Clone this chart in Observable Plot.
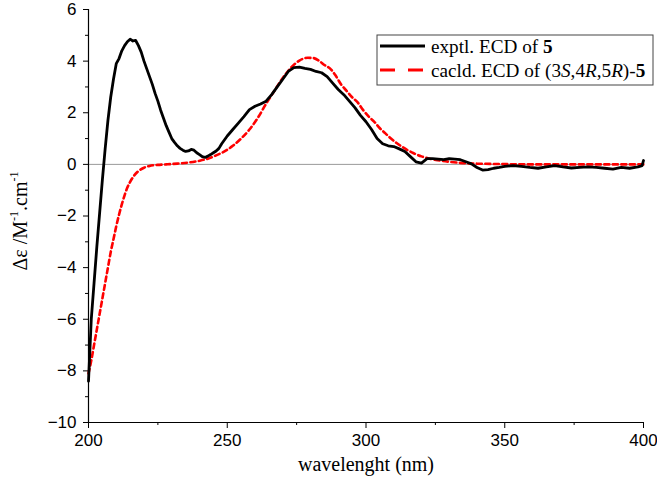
<!DOCTYPE html>
<html><head><meta charset="utf-8">
<script src="https://cdn.jsdelivr.net/npm/d3@7"></script>
<script src="https://cdn.jsdelivr.net/npm/@observablehq/plot@0.6"></script>
<style>body{margin:0;background:#fff}</style>
</head><body><div id="chart"></div>
<script>
// Experimental ECD of 5
const wlExp = [200,200.5,201,202,203,204,205,206,207,208,209,210,211,212,213,214,215,216,217,218,219,220,221,222,223,224,225,226,227,228,229,230,231,232,233,234,235,236,237,238,239,240,241,242,243,244,245,246,247,248,250,252,254,256,258,260,262,264,266,268,270,272,274,276,278,280,282,284,286,288,290,292,294,296,298,300,302,304,306,308,310,312,314,316,318,320,322,324,326,328,330,332,334,336,338,340,342,344,346,348,350,353,356,359,362,365,368,371,374,377,380,383,386,389,392,395,398,399.5,400];
const deExp = [-8.4,-7.2,-6.0,-4.6,-3.2,-1.9,-0.6,0.6,1.7,2.6,3.3,3.9,4.1,4.4,4.6,4.75,4.85,4.78,4.8,4.6,4.35,4.0,3.7,3.4,3.1,2.75,2.45,2.1,1.8,1.5,1.25,1.0,0.85,0.72,0.62,0.55,0.5,0.52,0.58,0.55,0.45,0.38,0.3,0.27,0.32,0.38,0.45,0.52,0.62,0.8,1.1,1.35,1.6,1.85,2.12,2.25,2.34,2.45,2.7,3.0,3.3,3.6,3.75,3.77,3.72,3.68,3.6,3.55,3.4,3.15,2.9,2.7,2.45,2.2,1.9,1.65,1.35,1.0,0.8,0.72,0.69,0.6,0.5,0.3,0.1,0.05,0.22,0.22,0.2,0.18,0.22,0.2,0.18,0.1,0.02,-0.12,-0.22,-0.2,-0.15,-0.12,-0.08,-0.05,-0.08,-0.12,-0.15,-0.1,-0.05,-0.1,-0.14,-0.12,-0.1,-0.12,-0.15,-0.18,-0.12,-0.15,-0.1,-0.05,0.15];
// Calculated ECD of (3S,4R,5R)-5
const wlCalc = [200,201,202,203,204,205,206,207,208,209,210,211,212,213,214,215,216,218,220,222,225,228,232,236,240,243,246,249,252,255,258,261,264,267,270,273,276,279,281,283,285,287,289,291,293,295,297,299,301,303,305,307,309,311,313,315,317,320,323,326,330,335,340,350,360,370,380,390,400];
const deCalc = [-8.1,-7.6,-7.0,-6.4,-5.8,-5.2,-4.6,-4.0,-3.4,-2.9,-2.4,-1.95,-1.55,-1.2,-0.9,-0.68,-0.5,-0.26,-0.13,-0.06,-0.02,0,0.03,0.07,0.14,0.22,0.35,0.5,0.72,1.0,1.35,1.8,2.35,2.85,3.35,3.75,4.02,4.13,4.12,4.02,3.85,3.72,3.45,3.1,2.85,2.6,2.4,2.1,1.85,1.65,1.4,1.2,1.0,0.83,0.68,0.55,0.44,0.31,0.22,0.16,0.1,0.05,0.03,0.01,0,0,0,0,0];

const xTicks = [200,250,300,350,400];
const xMinor = [225,275,325,375];
const yTicks = [-10,-8,-6,-4,-2,0,2,4,6];
const yMinor = [-9,-7,-5,-3,-1,1,3,5];

const expData = wlExp.map((x,i)=>({x, y: deExp[i]}));
const calcData = wlCalc.map((x,i)=>({x, y: deCalc[i]}));

const serif = "'Liberation Serif','Times New Roman',serif";

const plot = Plot.plot({
  width: 657, height: 485,
  marginLeft: 88, marginRight: 14, marginTop: 9, marginBottom: 63,
  x: {domain: [200, 400]},
  y: {domain: [-10, 6]},
  style: {fontFamily: "'Liberation Sans',Arial,sans-serif", fontSize: "17px", color: "#000", background: "#fff"},
  marks: [
    Plot.ruleY([0], {stroke: "#999", strokeWidth: 1}),
    Plot.axisX({ticks: xTicks, tickSize: 6, tickPadding: 5, label: null, fontSize: 17}),
    Plot.axisX({ticks: xMinor, tickSize: 3, tickFormat: () => "", label: null}),
    Plot.axisY({ticks: yTicks, tickSize: 5, tickPadding: 7, label: null, fontSize: 17}),
    Plot.axisY({ticks: yMinor, tickSize: 3, tickFormat: () => "", label: null}),
    Plot.ruleX([200], {stroke: "#000", strokeWidth: 1.2}),
    Plot.ruleY([-10], {stroke: "#000", strokeWidth: 1.2}),
    Plot.line(calcData, {x: "x", y: "y", stroke: "#ff0000", strokeWidth: 2.6, strokeDasharray: "5,3.5", curve: "monotone-x"}),
    Plot.line(expData, {x: "x", y: "y", stroke: "#000", strokeWidth: 2.8, curve: "linear"}),
    Plot.text(["wavelenght (nm)"], {frameAnchor: "bottom", dy: 42, lineAnchor: "middle", fontFamily: serif, fontSize: 20})
  ]
});

const svg = d3.select(plot);

// Y axis label with superscripts
const yl = svg.append("text")
  .attr("transform", "translate(27,221) rotate(-90)")
  .attr("text-anchor", "middle")
  .attr("font-family", serif).attr("font-size", 20).attr("fill", "#000");
yl.append("tspan").text("Δε /M");
yl.append("tspan").attr("font-size", 12).attr("dy", -9).text("-1");
yl.append("tspan").attr("dy", 9).text(".cm");
yl.append("tspan").attr("font-size", 12).attr("dy", -9).text("-1");

// Legend
const g = svg.append("g").attr("font-family", serif).attr("font-size", 19.2).attr("text-anchor", "start");
g.append("rect").attr("x", 377).attr("y", 35).attr("width", 276).attr("height", 50)
  .attr("fill", "#fff").attr("stroke", "#444").attr("stroke-width", 1);
g.append("line").attr("x1", 380).attr("x2", 425).attr("y1", 46).attr("y2", 46)
  .attr("stroke", "#000").attr("stroke-width", 3);
g.append("line").attr("x1", 380).attr("x2", 425).attr("y1", 70).attr("y2", 70)
  .attr("stroke", "#ff0000").attr("stroke-width", 3).attr("stroke-dasharray", "15,13");
const t1 = g.append("text").attr("x", 431).attr("y", 46).attr("dy", "0.35em").attr("text-anchor", "start");
t1.append("tspan").text("exptl. ECD of ");
t1.append("tspan").attr("font-weight", "bold").text("5");
const t2 = g.append("text").attr("x", 431).attr("y", 70).attr("dy", "0.35em").attr("text-anchor", "start");
t2.append("tspan").text("cacld. ECD of (3");
t2.append("tspan").attr("font-style", "italic").text("S");
t2.append("tspan").text(",4");
t2.append("tspan").attr("font-style", "italic").text("R");
t2.append("tspan").text(",5");
t2.append("tspan").attr("font-style", "italic").text("R");
t2.append("tspan").text(")-");
t2.append("tspan").attr("font-weight", "bold").text("5");

document.getElementById("chart").appendChild(plot);
</script>
</body></html>
